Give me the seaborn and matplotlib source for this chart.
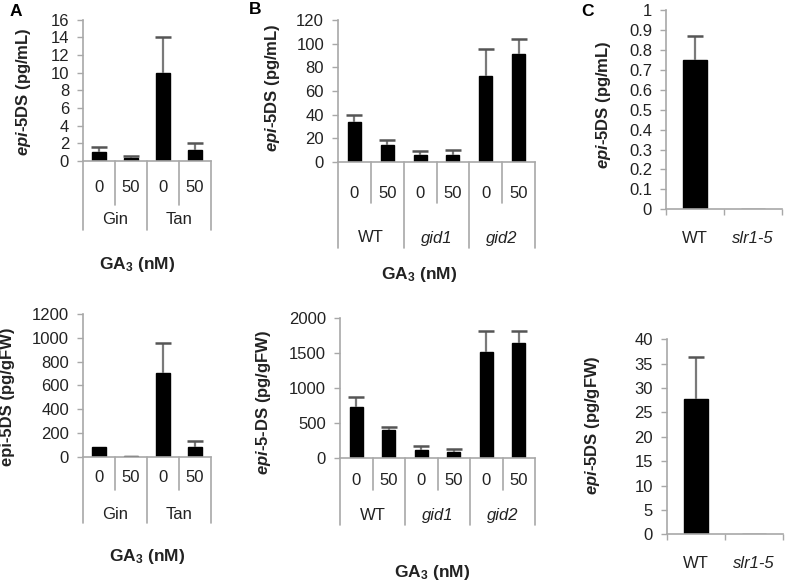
import numpy as np
import pandas as pd
import matplotlib
matplotlib.use("Agg")
import matplotlib.pyplot as plt
import seaborn as sns
from matplotlib.ticker import MultipleLocator, FuncFormatter, FixedLocator

# ---------------- data ----------------
a_groups = ["Gin", "Tan"]
a_doses = ["0", "50"]
a_ml_mean = [1.05, 0.3, 10.0, 1.3]
a_ml_err = [0.55, 0.3, 4.0, 0.7]
a_fw_mean = [82, 8, 700, 80]
a_fw_err = [0, 0, 260, 50]

b_groups = ["WT", "gid1", "gid2"]
b_doses = ["0", "50"]
b_ml_mean = [34, 14, 5.5, 5.5, 72.5, 91]
b_ml_err = [5.5, 5, 3.5, 4.5, 23, 13]
b_fw_mean = [737, 404, 119, 94, 1514, 1651]
b_fw_err = [143, 47, 57, 35, 309, 172]

c_groups = ["WT", "slr1-5"]
c_ml_mean = [0.75, 0.0]
c_ml_err = [0.12, 0.0]
c_fw_mean = [27.8, 0.0]
c_fw_err = [8.6, 0.0]

# ---------------- style ----------------
sns.set_style("white")
plt.rcParams["font.family"] = ["Liberation Sans", "DejaVu Sans"]
plt.rcParams["mathtext.fontset"] = "custom"
plt.rcParams["mathtext.it"] = "Liberation Sans:italic:bold"
plt.rcParams["mathtext.rm"] = "Liberation Sans:bold"
plt.rcParams["mathtext.bf"] = "Liberation Sans:bold"

W, H = 793, 586
DPI = 100
fig = plt.figure(figsize=(W / DPI, H / DPI), dpi=DPI)
fig.patch.set_facecolor("white")

TXT = "#222222"
AXC = "#a8a8a8"
TICK_FS = 12
LAB_FS = 12


def make_ax(x0, x1, ytop, ybot):
    return fig.add_axes([x0 / W, 1 - ybot / H, (x1 - x0) / W, (ybot - ytop) / H])


def style_ax(ax, ymax, step, fmt="%g"):
    ax.set_ylim(0, ymax)
    ax.yaxis.set_major_locator(MultipleLocator(step))
    ax.yaxis.set_major_formatter(FuncFormatter(lambda v, p: fmt % v))
    for s in ["top", "right"]:
        ax.spines[s].set_visible(False)
    for s in ["left", "bottom"]:
        ax.spines[s].set_color(AXC)
        ax.spines[s].set_linewidth(1.2)
    ax.tick_params(axis="y", direction="out", length=4, width=1, color=AXC,
                   labelsize=TICK_FS, labelcolor=TXT, pad=6, left=True)
    ax.set_xlabel("")


def bars(ax, cats, means, errs, width=0.42):
    df = pd.DataFrame({"cat": cats, "val": means})
    sns.barplot(data=df, x="cat", y="val", order=cats, color="black",
                saturation=1, width=width, edgecolor="black", errorbar=None, ax=ax)
    x = np.arange(len(cats))
    m = np.array(means, dtype=float)
    e = np.array(errs, dtype=float)
    show = e > 0
    ax.vlines(x[show], m[show], m[show] + e[show], colors="#7a7a7a", lw=1.6, zorder=3)
    ax.plot(x[show], m[show] + e[show], ls="none", marker="_", markersize=11,
            mew=1.8, color="#555555", zorder=3)
    ax.set_xlim(-0.5, len(cats) - 0.5)
    ax.set_ylabel("")


def hier(ax, groups, doses, tick_dy, inner_dy, group_dy, outer_dy, italic=()):
    hpx = ax.get_position().height * H
    tr = ax.get_xaxis_transform()
    ax.set_xticks([])
    nd = len(doses)
    n = len(groups) * nd
    for i in range(n):
        ax.text(i, -tick_dy / hpx, doses[i % nd], transform=tr, ha="center",
                va="center", fontsize=TICK_FS, color=TXT, clip_on=False)
    for gi, g in enumerate(groups):
        cx = gi * nd + (nd - 1) / 2
        ax.text(cx, -group_dy / hpx, g, transform=tr, ha="center", va="center",
                fontsize=TICK_FS, color=TXT, clip_on=False,
                style="italic" if g in italic else "normal")
        for k in range(1, nd):
            xb = gi * nd + k - 0.5
            ax.plot([xb, xb], [0, -inner_dy / hpx], transform=tr, color=AXC,
                    lw=1.2, clip_on=False)
    for gi in range(len(groups) + 1):
        xb = gi * nd - 0.5
        ax.plot([xb, xb], [0, -outer_dy / hpx], transform=tr, color=AXC,
                lw=1.2, clip_on=False)


def ylabel(ax, text, xpx, ypx):
    ax.set_ylabel(text, fontsize=LAB_FS, fontweight="bold", color=TXT)
    ax.yaxis.set_label_coords(xpx / W, 1 - ypx / H, transform=fig.transFigure)


def cats_of(groups, doses):
    return [f"{g} {d}" for g in groups for d in doses]


# ---------------- panel A top ----------------
ax = make_ax(83, 211, 19.6, 161)
bars(ax, cats_of(a_groups, a_doses), a_ml_mean, a_ml_err)
style_ax(ax, 16, 2)
hier(ax, a_groups, a_doses, 27, 44, 59, 69)
ylabel(ax, "$epi$-5DS (pg/mL)", 33, 92)

# ---------------- panel A bottom ----------------
ax = make_ax(83, 211, 314, 456.7)
bars(ax, cats_of(a_groups, a_doses), a_fw_mean, a_fw_err)
style_ax(ax, 1200, 200)
hier(ax, a_groups, a_doses, 21, 33, 58, 66)
ylabel(ax, "epi-5DS (pg/gFW)", 15, 397)

# ---------------- panel B top ----------------
ax = make_ax(338, 535, 20, 162)
bars(ax, cats_of(b_groups, b_doses), b_ml_mean, b_ml_err, width=0.4)
style_ax(ax, 120, 20)
hier(ax, b_groups, b_doses, 31, 41, 76, 86, italic=("gid1", "gid2"))
ylabel(ax, "$epi$-5DS (pg/mL)", 282, 88)

# ---------------- panel B bottom ----------------
ax = make_ax(340, 535, 318.3, 458.3)
bars(ax, cats_of(b_groups, b_doses), b_fw_mean, b_fw_err, width=0.4)
style_ax(ax, 2000, 500)
hier(ax, b_groups, b_doses, 22, 32, 57, 67, italic=("gid1", "gid2"))
ylabel(ax, "$epi$-5-DS (pg/gFW)", 273, 402)


# ---------------- panel C ----------------
def c_axis(ax, labels, lab_dy):
    hpx = ax.get_position().height * H
    ax.xaxis.set_major_locator(FixedLocator([-0.5, 0.5, 1.5]))
    ax.set_xticklabels([])
    ax.tick_params(axis="x", which="major", direction="out", length=4, width=1,
                   color=AXC, bottom=True)
    tr = ax.get_xaxis_transform()
    for i, lab in enumerate(labels):
        ax.text(i, -lab_dy / hpx, lab, transform=tr, ha="center", va="center",
                fontsize=TICK_FS, color=TXT, clip_on=False,
                style="italic" if lab != "WT" else "normal")


ax = make_ax(666, 782, 10, 209.3)
bars(ax, c_groups, c_ml_mean, c_ml_err, width=0.41)
style_ax(ax, 1, 0.1)
c_axis(ax, c_groups, 29)
ylabel(ax, "$epi$-5DS (pg/mL)", 613, 105)

ax = make_ax(667, 783, 339.3, 534.3)
bars(ax, c_groups, c_fw_mean, c_fw_err, width=0.41)
style_ax(ax, 40, 5)
c_axis(ax, c_groups, 29)
ylabel(ax, "$epi$-5DS (pg/gFW)", 602, 425)

# ---------------- figure texts ----------------
for txt, xp, yp in [("GA$_3$ (nM)", 137, 265), ("GA$_3$ (nM)", 147, 557),
                    ("GA$_3$ (nM)", 419, 275), ("GA$_3$ (nM)", 432, 573)]:
    fig.text(xp / W, 1 - yp / H, txt, ha="center", va="center", fontsize=12.5,
             fontweight="bold", color=TXT)

for txt, xp, yp in [("A", 16, 11), ("B", 255, 10), ("C", 587, 12)]:
    fig.text(xp / W, 1 - yp / H, txt, ha="center", va="center", fontsize=12.5,
             fontweight="bold", color="black")

fig.savefig("out.png", dpi=DPI, facecolor="white")
